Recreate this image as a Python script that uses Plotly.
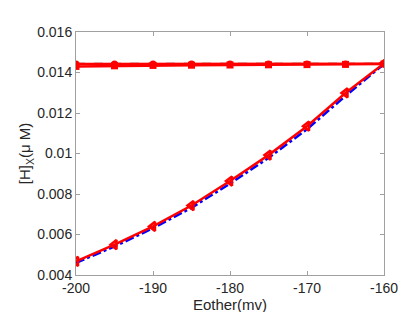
import plotly.graph_objects as go

eother = [-200, -195, -190, -185, -180, -175, -170, -165, -160]
h_circle = [0.01442, 0.01442, 0.01442, 0.01442, 0.01442, 0.01442, 0.01442, 0.01442, 0.01443]
h_dashed = [0.01444, 0.01444, 0.01444, 0.01444, 0.01444, 0.01444, 0.01444, 0.01444, 0.01444]
h_square = [0.01430, 0.01433, 0.01435, 0.01436, 0.01437, 0.01438, 0.01439, 0.01440, 0.01442]
h_triangle = [0.00467, 0.00550, 0.00640, 0.00743, 0.00864, 0.00992, 0.01135, 0.01299, 0.01445]
h_dashdot = [0.00460, 0.00541, 0.00631, 0.00732, 0.00851, 0.00978, 0.01120, 0.01284, 0.01442]

y_ticks = [0.004, 0.006, 0.008, 0.01, 0.012, 0.014, 0.016]
y_ticklabels = ["0.004", "0.006", "0.008", "0.01", "0.012", "0.014", "0.016"]
x_ticks = [-200, -190, -180, -170, -160]
x_ticklabels = ["-200", "-190", "-180", "-170", "-160"]

fig = go.Figure()
fig.add_trace(go.Scatter(x=eother, y=h_dashed, mode="lines",
                         line=dict(color="#555555", width=1.5, dash="dash")))
fig.add_trace(go.Scatter(x=eother, y=h_square, mode="lines+markers",
                         line=dict(color="#ff0000", width=2.5),
                         marker=dict(symbol="square", size=7, color="#ff0000")))
fig.add_trace(go.Scatter(x=eother, y=h_circle, mode="lines+markers",
                         line=dict(color="#ff0000", width=2.5),
                         marker=dict(symbol="circle", size=7, color="#ff0000")))
fig.add_trace(go.Scatter(x=eother, y=h_dashdot, mode="lines",
                         line=dict(color="#0000ff", width=2.5, dash="dashdot")))
fig.add_trace(go.Scatter(x=eother, y=h_triangle, mode="lines+markers",
                         line=dict(color="#ff0000", width=2.5),
                         marker=dict(symbol="triangle-left-open", size=8,
                                     color="#ff0000", line=dict(width=2.5, color="#ff0000"))))

font_family = "Liberation Sans, Arial, Helvetica"
axis_common = dict(showline=True, linecolor="#a0a0a0", linewidth=1, mirror="allticks",
                   ticks="inside", ticklen=4, tickcolor="#a0a0a0", showgrid=False,
                   zeroline=False, tickfont=dict(family=font_family, size=14, color="#262626"))

fig.update_layout(
    width=415, height=312,
    margin=dict(l=68, r=39, t=24, b=43),
    paper_bgcolor="white", plot_bgcolor="white",
    showlegend=False,
    xaxis=dict(range=[-200, -160], tickvals=x_ticks, ticktext=x_ticklabels,
               title=dict(text="Eother(mv)", standoff=2,
                          font=dict(family=font_family, size=15, color="#262626")),
               **axis_common),
    yaxis=dict(range=[0.004, 0.016], tickvals=y_ticks, ticktext=y_ticklabels,
               title=dict(text="[H]<sub>X</sub>(μ M)", standoff=2,
                          font=dict(family=font_family, size=15, color="#262626")),
               **axis_common),
)

fig.write_html("out.html")
